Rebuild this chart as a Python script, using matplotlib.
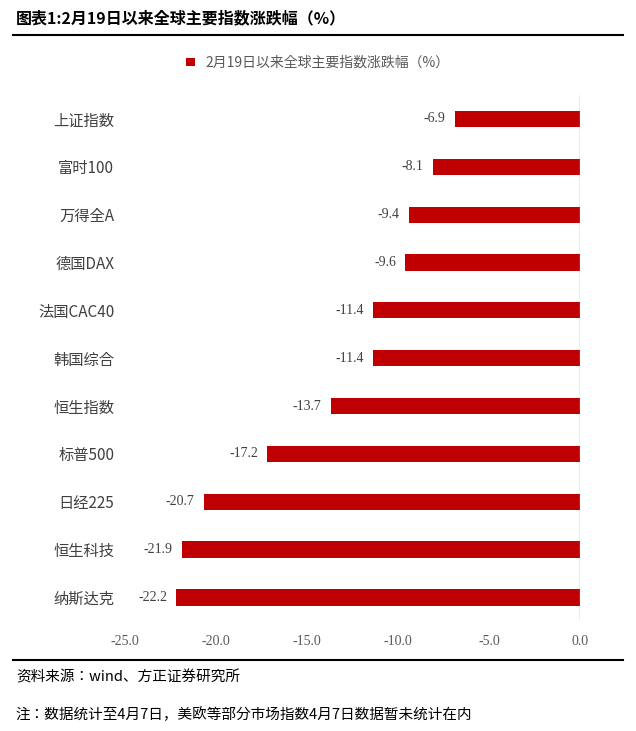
import matplotlib
matplotlib.use("Agg")
import matplotlib.pyplot as plt

plt.rcParams["font.family"] = ["Noto Sans CJK JP", "Noto Sans CJK SC", "DejaVu Sans"]
plt.rcParams["axes.unicode_minus"] = False

names = ["上证指数", "富时100", "万得全A", "德国DAX", "法国CAC40", "韩国综合",
         "恒生指数", "标普500", "日经225", "恒生科技", "纳斯达克"]
values = [-6.9, -8.1, -9.4, -9.6, -11.4, -11.4, -13.7, -17.2, -20.7, -21.9, -22.2]
xticks = [-25.0, -20.0, -15.0, -10.0, -5.0, 0.0]

fig = plt.figure(figsize=(6.36, 7.31), dpi=100)
ax = fig.add_axes([0.197, 0.150, 0.715, 0.720])

pos = list(range(len(names)))
ax.barh(pos, values, height=0.34, color="#C00000", label="2月19日以来全球主要指数涨跌幅（%）")
for p, v in zip(pos, values):
    ax.text(v - 0.5, p, f"{v:.1f}", ha="right", va="center", fontsize=10,
            family="Liberation Serif", color="#404040")

ax.set_ylim(len(names) - 0.5, -0.5)
ax.set_xlim(-25, 0)
ax.set_xticks(xticks)
ax.set_xticklabels([f"{t:.1f}" for t in xticks], family="Liberation Serif", fontsize=10, color="#595959")
ax.set_yticks(pos)
ax.set_yticklabels(names, fontsize=11, color="#404040")
ax.tick_params(length=0, pad=8)
ax.tick_params(axis="x", pad=10)
for s in ["top", "right", "bottom", "left"]:
    ax.spines[s].set_visible(False)
ax.axvline(0, color="#A6A6A6", lw=1)

fig.legend(loc="center", bbox_to_anchor=(0.5, 0.914), frameon=False, fontsize=10,
           handlelength=0.6, handleheight=0.6, labelcolor="#595959")

fig.text(0.025, 0.975, "图表1:2月19日以来全球主要指数涨跌幅（%）", fontsize=11.5,
         weight="bold", va="center")
fig.add_artist(plt.Line2D([0.02, 0.98], [0.952, 0.952], color="black", lw=1.5))
fig.add_artist(plt.Line2D([0.02, 0.98], [0.097, 0.097], color="black", lw=1.5))
fig.text(0.025, 0.074, "资料来源：wind、方正证券研究所", fontsize=10.5, style="italic", va="center")
fig.text(0.025, 0.023, "注：数据统计至4月7日，美欧等部分市场指数4月7日数据暂未统计在内",
         fontsize=10.5, style="italic", va="center")

fig.savefig("out.png", dpi=100)
